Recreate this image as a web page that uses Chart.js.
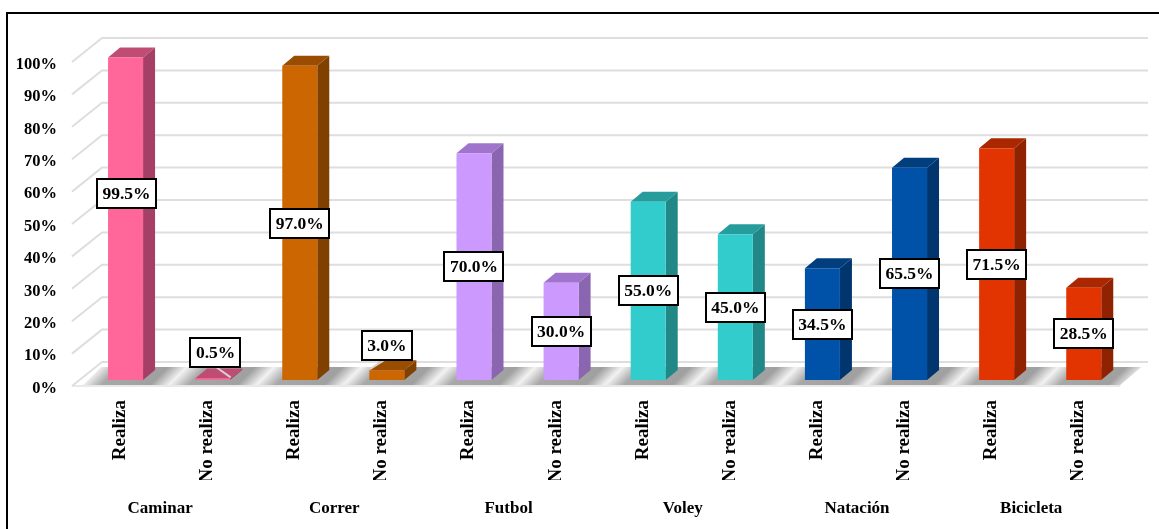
<!DOCTYPE html>
<html>
<head>
<meta charset="utf-8">
<style>
html,body{margin:0;padding:0;background:#fff;overflow:hidden}
#wrap{position:absolute;left:0;top:0;width:1159px;height:529px}
</style>
<script src="https://cdn.jsdelivr.net/npm/chart.js@4"></script>
</head>
<body>
<div id="wrap"><canvas id="c" width="1159" height="529"></canvas></div>
<script>
const groups = ['Caminar','Correr','Futbol','Voley','Natación','Bicicleta'];
const categories = ['Realiza','No realiza','Realiza','No realiza','Realiza','No realiza','Realiza','No realiza','Realiza','No realiza','Realiza','No realiza'];
const values = [99.5,0.5,97.0,3.0,70.0,30.0,55.0,45.0,34.5,65.5,71.5,28.5];

const FONT = '"Liberation Serif","Times New Roman",serif';
const front = ['#FF6699','#FF6699','#CC6600','#CC6600','#CC99FF','#CC99FF','#33CCCC','#33CCCC','#0052A8','#0052A8','#E23400','#E23400'];
const top3d = ['#C04C73','#C04C73','#9A4D00','#9A4D00','#A073CC','#A073CC','#269C9C','#269C9C','#003E7E','#003E7E','#AA2700','#AA2700'];
const side3d = ['#A63F66','#A63F66','#7F4000','#7F4000','#8A66B0','#8A66B0','#218787','#218787','#00366D','#00366D','#8F2200','#8F2200'];

const DEPTH_X = 12, DEPTH_Y = 10;          // bar extrusion
const WALL = {x:20, y:18, right:1148};     // back wall from the bar plane
const FLOOR_FRONT = 6;                     // front edge below the bar plane
const labelShift = {0:[1,-25],1:[3,-27],2:[0,1],3:[0,-30]};

const scene = {
  id:'scene',
  beforeDraw(chart){
    const c = chart.ctx;
    c.save();
    c.strokeStyle = '#000'; c.lineWidth = 2;
    c.beginPath(); c.moveTo(7,529); c.lineTo(7,13); c.lineTo(1159,13); c.stroke();
    c.restore();
  },
  beforeDatasetsDraw(chart){
    const c = chart.ctx, ys = chart.scales.y, xs = chart.scales.x;
    const left = chart.chartArea.left, bLeft = left + WALL.x, fLeft = left - 10;
    c.save();
    c.strokeStyle = '#DEDEDE'; c.lineWidth = 2;
    ys.ticks.forEach(t=>{
      const p = ys.getPixelForValue(t.value);
      c.beginPath();
      c.moveTo(fLeft, p + FLOOR_FRONT);
      c.lineTo(bLeft, p - WALL.y);
      c.lineTo(WALL.right, p - WALL.y);
      c.stroke();
    });
    // floor
    const y0 = ys.getPixelForValue(0);
    const yb = y0 + FLOOR_FRONT - 1, yt = y0 - 13;
    const xl = left + 1, span = xs.right - xs.left, n = categories.length;
    const g = c.createLinearGradient(xs.left, yb, xs.left + span/2, yb + span/2);
    for (let k=0;k<n;k++){
      g.addColorStop(k/n,'#F2F2F2');
      g.addColorStop((k+0.22)/n,'#A8A8A8');
      g.addColorStop((k+0.78)/n,'#A0A0A0');
    }
    g.addColorStop(1,'#F2F2F2');
    c.fillStyle = g;
    c.beginPath();
    c.moveTo(xl, yb);
    c.lineTo(xl + (yb-yt), yt);
    c.lineTo(xs.right + 14, yt);
    c.lineTo(xs.right - 7, yb);
    c.closePath(); c.fill();
    c.strokeStyle='#E2E2E2'; c.lineWidth=1.5;
    c.beginPath(); c.moveTo(fLeft, yb+1); c.lineTo(xs.right-7, yb+1); c.stroke();
    // extruded faces
    chart.getDatasetMeta(0).data.forEach((b,i)=>{
      const hw = b.width/2, l = b.x-hw, r = b.x+hw;
      c.fillStyle = side3d[i];
      c.beginPath();
      c.moveTo(r,b.base); c.lineTo(r+DEPTH_X,b.base-DEPTH_Y);
      c.lineTo(r+DEPTH_X,b.y-DEPTH_Y); c.lineTo(r,b.y); c.closePath(); c.fill();
      c.fillStyle = top3d[i];
      c.beginPath();
      c.moveTo(l,b.y); c.lineTo(l+DEPTH_X,b.y-DEPTH_Y);
      c.lineTo(r+DEPTH_X,b.y-DEPTH_Y); c.lineTo(r,b.y); c.closePath(); c.fill();
    });
    c.restore();
  },
  afterDatasetsDraw(chart){
    const c = chart.ctx;
    c.save();
    c.font = 'bold 17.5px '+FONT;
    c.textAlign='center'; c.textBaseline='middle';
    chart.getDatasetMeta(0).data.forEach((b,i)=>{
      const s = labelShift[i] || [0,0];
      const cx = b.x + s[0], cy = (b.y+b.base)/2 + s[1];
      const txt = values[i].toFixed(1)+'%';
      const w = c.measureText(txt).width + 11, h = 29;
      if (values[i] < 5){
        c.strokeStyle='#D9D0D0'; c.lineWidth=2;
        c.beginPath();
        c.moveTo(cx + (i===1?0:-2), cy+h/2);
        c.lineTo(i===1 ? b.x+18 : b.x-17, b.y-1);
        c.stroke();
      }
      c.fillStyle='#fff'; c.strokeStyle='#000'; c.lineWidth=2;
      c.beginPath(); c.rect(Math.round(cx-w/2), Math.round(cy-h/2), Math.round(w), h); c.fill(); c.stroke();
      c.fillStyle='#000';
      c.fillText(txt,cx,cy+1);
    });
    c.restore();
  }
};

new Chart(document.getElementById('c'),{
  type:'bar',
  data:{
    labels:categories,
    datasets:[{
      data:values,
      backgroundColor:front,
      borderWidth:0,
      barPercentage:0.402,
      categoryPercentage:1
    }]
  },
  options:{
    responsive:false,
    animation:false,
    events:[],
    layout:{padding:{left:0,top:56,right:31.7,bottom:0}},
    plugins:{legend:{display:false},tooltip:{enabled:false},title:{display:false}},
    scales:{
      y:{
        min:0,max:100,
        grid:{display:false,drawTicks:false},
        border:{display:false},
        afterFit(s){s.width=82;},
        ticks:{stepSize:10,padding:25,labelOffset:8.5,color:'#000',
          font:{family:FONT,weight:'bold',size:16.5},
          callback:v=>v+'%'}
      },
      x:{
        offset:true,
        weight:0,
        grid:{display:false,drawTicks:false},
        border:{display:false},
        afterFit(s){s.height=100;},
        ticks:{autoSkip:false,minRotation:90,maxRotation:90,padding:20,labelOffset:-5.5,color:'#000',
          font:{family:FONT,weight:'bold',size:19}}
      },
      x2:{
        type:'category',
        labels:groups,
        position:'bottom',
        offset:true,
        weight:1,
        grid:{display:false,drawTicks:false},
        border:{display:false},
        afterFit(s){s.height=49;},
        ticks:{autoSkip:false,maxRotation:0,minRotation:0,padding:18,labelOffset:-9,color:'#000',
          font:{family:FONT,weight:'bold',size:17}}
      }
    }
  },
  plugins:[scene]
});
</script>
</body>
</html>
